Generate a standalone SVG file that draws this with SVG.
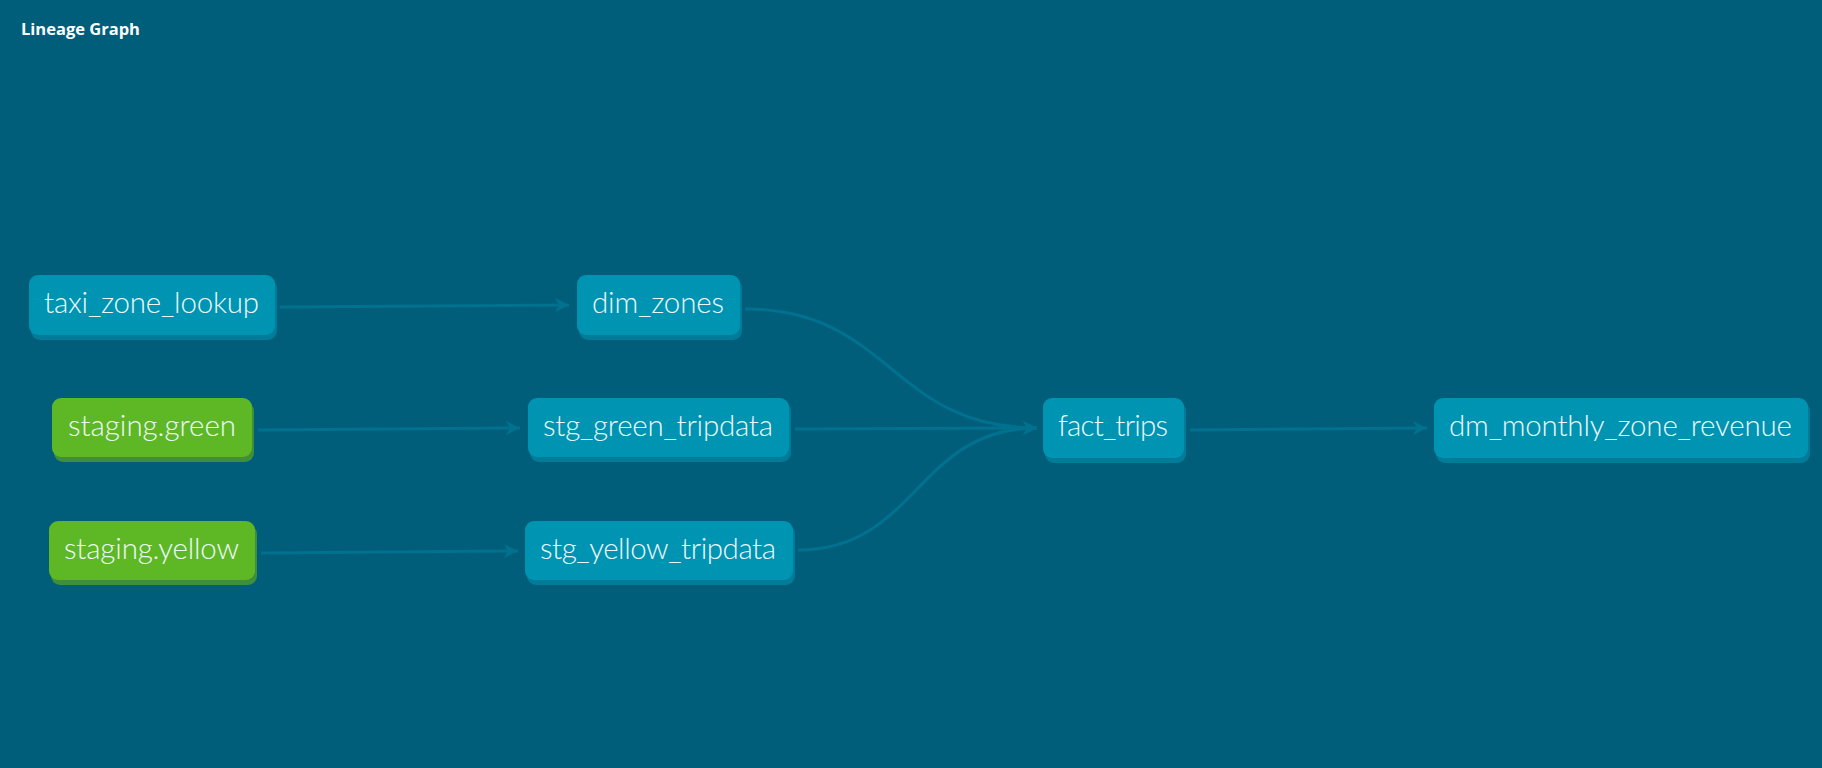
<svg xmlns="http://www.w3.org/2000/svg" width="1822" height="768" viewBox="0 0 1822 768">
<style>
.bg{fill:#005e7a}
.title{font-family:"Open Sans","Liberation Sans",sans-serif;font-weight:700;font-size:16.5px;fill:#ffffff}
.node{fill:#0094b3}
.shadow{fill:#007b98}
.src .node{fill:#5eb826}
.src .shadow{fill:#3f8e3c}
.label{font-family:Lato,"Open Sans","Liberation Sans",sans-serif;font-weight:300;font-size:29.5px;fill:#eef8fb}
.edge{fill:none;stroke:#00718f;stroke-width:3}
</style>
<defs>
<marker id="arr" markerUnits="userSpaceOnUse" markerWidth="16" markerHeight="14" refX="14" refY="7" orient="auto">
<path d="M0,0 L14,7 L0,14 L4,7 z" fill="#00718f"/>
</marker>
</defs>
<rect class="bg" x="0" y="0" width="1822" height="768"/>
<text class="title" x="21" y="35">Lineage Graph</text>
<g id="connectors">
<path class="edge" d="M280,307 L569,305" marker-end="url(#arr)"/>
<path class="edge" d="M258,430 L520,428" marker-end="url(#arr)"/>
<path class="edge" d="M261,553 L518,551" marker-end="url(#arr)"/>
<path class="edge" d="M745,309 C891,309 891,428 1037,428" marker-end="url(#arr)"/>
<path class="edge" d="M795,429 L1037,428" marker-end="url(#arr)"/>
<path class="edge" d="M798,550 C917,550 917,428 1037,428" marker-end="url(#arr)"/>
<path class="edge" d="M1190,430 L1427,428" marker-end="url(#arr)"/>
</g>
<g id="taxi_zone_lookup">
<rect class="shadow" x="31" y="279" width="246" height="61" rx="9"/>
<rect class="node" x="29" y="275" width="246" height="60" rx="9"/>
<text class="label" x="44" y="313" textLength="215">taxi_zone_lookup</text>
</g>
<g id="dim_zones">
<rect class="shadow" x="579" y="279" width="163" height="61" rx="9"/>
<rect class="node" x="577" y="275" width="163" height="60" rx="9"/>
<text class="label" x="592" y="313" textLength="132">dim_zones</text>
</g>
<g id="staging_green" class="src">
<rect class="shadow" x="54" y="402" width="200" height="60" rx="9"/>
<rect class="node" x="52" y="398" width="200" height="59" rx="9"/>
<text class="label" x="68" y="436" textLength="168">staging.green</text>
</g>
<g id="staging_yellow" class="src">
<rect class="shadow" x="51" y="525" width="206" height="60" rx="9"/>
<rect class="node" x="49" y="521" width="206" height="59" rx="9"/>
<text class="label" x="64" y="559" textLength="175">staging.yellow</text>
</g>
<g id="stg_green_tripdata">
<rect class="shadow" x="530" y="402" width="261" height="60" rx="9"/>
<rect class="node" x="528" y="398" width="261" height="59" rx="9"/>
<text class="label" x="543" y="436" textLength="230">stg_green_tripdata</text>
</g>
<g id="stg_yellow_tripdata">
<rect class="shadow" x="527" y="525" width="268" height="60" rx="9"/>
<rect class="node" x="525" y="521" width="268" height="59" rx="9"/>
<text class="label" x="540" y="559" textLength="236">stg_yellow_tripdata</text>
</g>
<g id="fact_trips">
<rect class="shadow" x="1045" y="402" width="141" height="61" rx="9"/>
<rect class="node" x="1043" y="398" width="141" height="60" rx="9"/>
<text class="label" x="1058" y="436" textLength="110">fact_trips</text>
</g>
<g id="dm_monthly_zone_revenue">
<rect class="shadow" x="1436" y="402" width="374" height="61" rx="9"/>
<rect class="node" x="1434" y="398" width="374" height="60" rx="9"/>
<text class="label" x="1449" y="436" textLength="343">dm_monthly_zone_revenue</text>
</g>
</svg>
